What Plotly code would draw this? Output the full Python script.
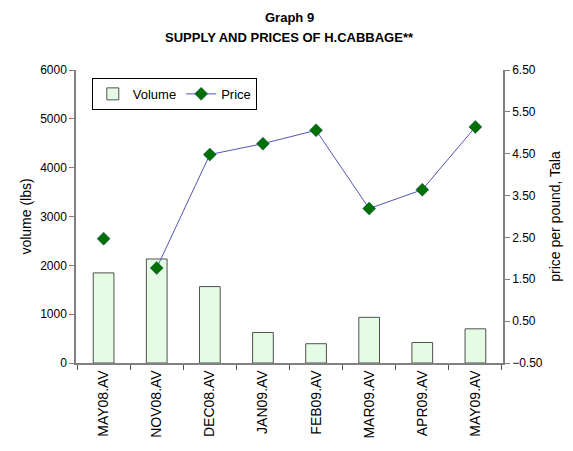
import plotly.graph_objects as go

categories = ["MAY08.AV", "NOV08.AV", "DEC08.AV", "JAN09.AV", "FEB09.AV", "MAR09.AV", "APR09.AV", "MAY09.AV"]
volume = [1845, 2130, 1565, 625, 395, 935, 420, 700]
price = [2.47, 1.77, 4.48, 4.74, 5.06, 3.19, 3.64, 5.14]
left_ticks = [0, 1000, 2000, 3000, 4000, 5000, 6000]
right_ticks = [-0.5, 0.5, 1.5, 2.5, 3.5, 4.5, 5.5, 6.5]

FONT = "Liberation Sans, Arial, sans-serif"

fig = go.Figure()
fig.add_trace(go.Bar(
    x=categories, y=volume, name="Volume", width=0.39,
    marker=dict(color="#e4fbe4", line=dict(color="#505050", width=1)),
))
# first price point stands alone (no connecting line in the original)
fig.add_trace(go.Scatter(
    x=categories[:1], y=price[:1], mode="markers", yaxis="y2", showlegend=False,
    marker=dict(symbol="diamond", size=10, color="#007000", line=dict(color="#1a4a6a", width=0.5)),
))
fig.add_trace(go.Scatter(
    x=categories[1:], y=price[1:], mode="lines+markers", yaxis="y2", name="Price",
    line=dict(color="#5555b5", width=1),
    marker=dict(symbol="diamond", size=10, color="#007000", line=dict(color="#1a4a6a", width=0.5)),
))

fig.update_layout(
    width=573, height=451,
    margin=dict(l=76, r=68, t=70, b=84),
    paper_bgcolor="white", plot_bgcolor="white",
    font=dict(family=FONT, size=12, color="black"),
    showlegend=True,
    legend=dict(orientation="h", x=0.037, y=0.973, xanchor="left", yanchor="top",
                bordercolor="black", borderwidth=1, bgcolor="white",
                font=dict(family=FONT, size=13), traceorder="normal"),
    bargap=0.6,
    annotations=[
        dict(text="<b>Graph 9</b>", xref="paper", yref="paper", x=0.5, y=1.18,
             xanchor="center", yanchor="middle", showarrow=False,
             font=dict(family=FONT, size=13)),
        dict(text="<b>SUPPLY AND PRICES OF H.CABBAGE**</b>", xref="paper", yref="paper",
             x=0.5, y=1.112, xanchor="center", yanchor="middle", showarrow=False,
             font=dict(family=FONT, size=13)),
    ],
    xaxis=dict(
        type="category", tickangle=-90, showgrid=False,
        showline=True, linecolor="#808080", linewidth=1.5,
        ticks="outside", ticklen=5, tickcolor="#505050", tickson="boundaries",
        tickfont=dict(family=FONT, size=14),
    ),
    yaxis=dict(
        range=[0, 6000], tickvals=left_ticks, showgrid=False, zeroline=False,
        showline=True, linecolor="#808080", linewidth=1.5,
        ticks="outside", ticklen=5, tickcolor="#808080",
        title=dict(text="volume (lbs)", font=dict(family=FONT, size=14), standoff=5),
        tickfont=dict(family=FONT, size=12),
    ),
    yaxis2=dict(
        range=[-0.5, 6.5], tickvals=right_ticks, tickformat=".2f", overlaying="y", side="right",
        showgrid=False, zeroline=False,
        showline=True, linecolor="#808080", linewidth=1.5,
        ticks="outside", ticklen=5, tickcolor="#808080",
        title=dict(text="price per pound, Tala", font=dict(family=FONT, size=14), standoff=8),
        tickfont=dict(family=FONT, size=12),
    ),
)

fig.write_html("out.html", config={"displayModeBar": False},
               post_script="document.body.style.margin='0';document.body.style.overflow='hidden';")
